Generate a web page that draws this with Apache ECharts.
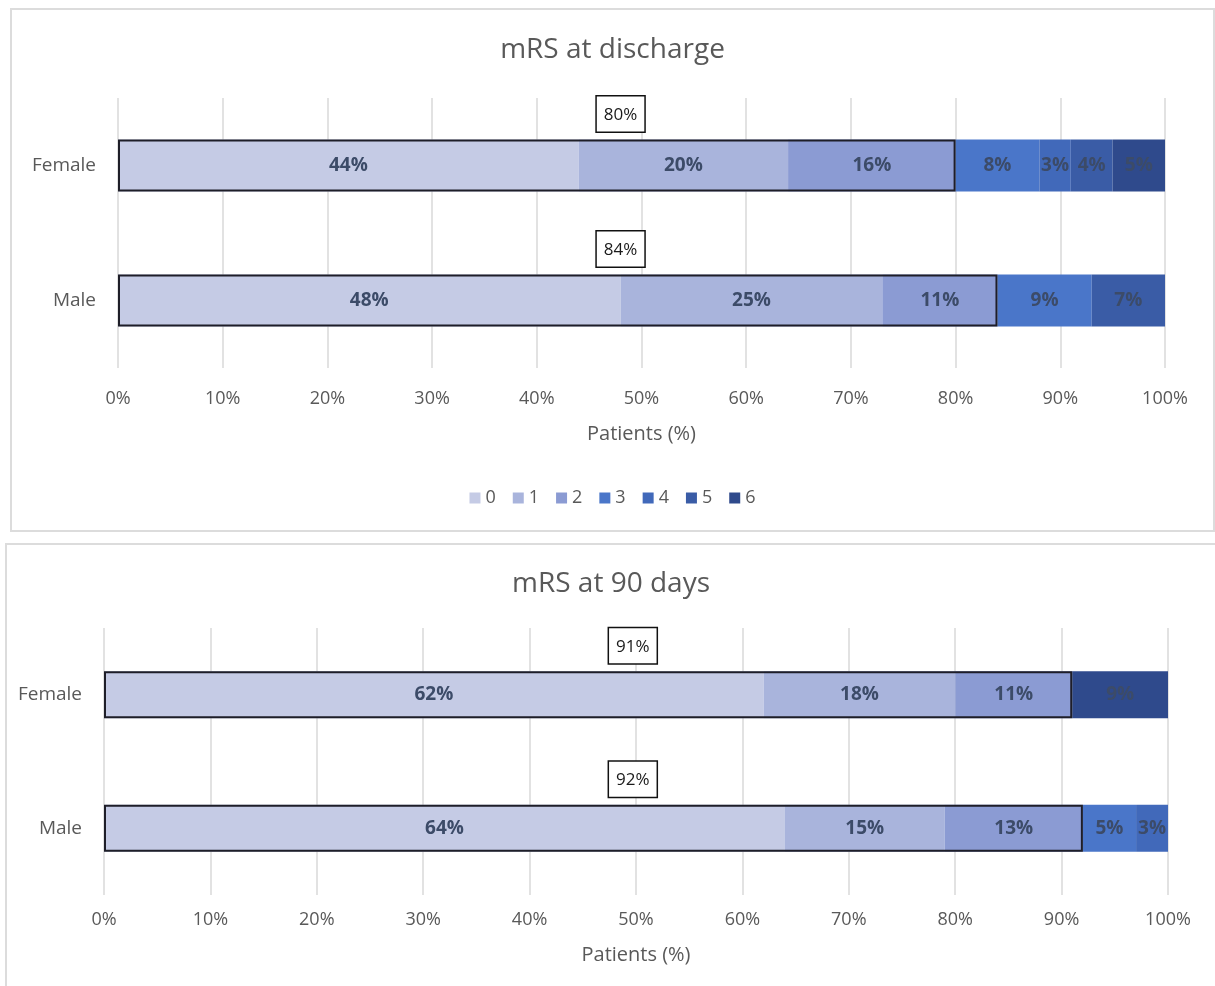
<!DOCTYPE html>
<html>
<head>
<meta charset="utf-8">
<script src="https://cdn.jsdelivr.net/npm/echarts@6/dist/echarts.min.js"></script>
<style>
  html, body { margin: 0; padding: 0; background: #ffffff; width: 1215px; height: 986px; overflow: hidden; }
  .panel { position: absolute; box-sizing: border-box; border: 2px solid #dcdcdc; background: #fff; }
  #p1 { left: 10px; top: 8px; width: 1205px; height: 524px; }
  #p2 { left: 5px; top: 543px; width: 1212px; height: 445px; }
  .chart { width: 100%; height: 100%; }
</style>
</head>
<body>
<div class="panel" id="p1"><div class="chart" id="c1"></div></div>
<div class="panel" id="p2"><div class="chart" id="c2"></div></div>
<script>
// ---- data ----
const groups = ['Female', 'Male'];
const mrsLevels = ['0', '1', '2', '3', '4', '5', '6'];
const xTicks = [0, 10, 20, 30, 40, 50, 60, 70, 80, 90, 100];

// mRS at discharge: percentage per level, [Female, Male]
const dischargeL0 = [44, 48];
const dischargeL1 = [20, 25];
const dischargeL2 = [16, 11];
const dischargeL3 = [8, 9];
const dischargeL4 = [3, 0];
const dischargeL5 = [4, 7];
const dischargeL6 = [5, 0];
const dischargeGood = [80, 84]; // mRS 0-2

// mRS at 90 days
const day90L0 = [62, 64];
const day90L1 = [18, 15];
const day90L2 = [11, 13];
const day90L3 = [0, 5];
const day90L4 = [0, 3];
const day90L5 = [0, 0];
const day90L6 = [9, 0];
const day90Good = [91, 92]; // mRS 0-2

const colors = ['#c5cbe5', '#a9b4dc', '#8b9bd3', '#4a76c9', '#4169ba', '#3a5ca6', '#2f4a8c'];
const FONT = '"Open Sans", "Noto Sans", sans-serif';

function buildOption(title, levels, good, opts) {
  const series = levels.map((vals, i) => ({
    name: mrsLevels[i],
    type: 'bar',
    stack: 'total',
    barWidth: opts.barWidth,
    itemStyle: { color: colors[i] },
    label: {
      show: true,
      position: 'inside',
      fontFamily: FONT,
      fontSize: 19,
      fontWeight: 'bold',
      color: '#3c4b68',
      formatter: p => (p.value > 0 ? p.value + '%' : '')
    },
    emphasis: { disabled: true },
    data: vals
  }));
  series.push({
    name: 'good',
    type: 'bar',
    barGap: '-100%',
    barWidth: opts.barWidth,
    z: 5,
    itemStyle: { color: 'rgba(0,0,0,0)', borderColor: '#1e1e28', borderWidth: 2 },
    emphasis: { disabled: true },
    data: good.map(v => ({
      value: v,
      label: {
        show: true,
        position: [(opts.labelCenter / v * 100) + '%', -8],
        align: 'center',
        verticalAlign: 'bottom',
        formatter: v + '%',
        fontFamily: FONT,
        fontSize: 17,
        color: '#1a1a1a',
        backgroundColor: '#ffffff',
        borderColor: '#111111',
        borderWidth: 1.5,
        padding: [10, 7, 8, 7]
      }
    }))
  });
  const option = {
    animation: false,
    backgroundColor: '#ffffff',
    title: {
      text: title,
      left: 'center',
      top: opts.titleTop,
      textStyle: { fontFamily: FONT, fontSize: 28, fontWeight: 'normal', color: '#595959' }
    },
    grid: { left: opts.gridLeft, width: opts.gridWidth, top: opts.gridTop, height: opts.gridHeight },
    xAxis: {
      type: 'value',
      min: 0,
      max: 100,
      interval: 10,
      name: 'Patients (%)',
      nameLocation: 'middle',
      nameGap: opts.nameGap,
      nameTextStyle: { fontFamily: FONT, fontSize: 20, color: '#595959' },
      axisLine: { show: false },
      axisTick: { show: false },
      axisLabel: {
        margin: opts.labelMargin,
        fontFamily: FONT,
        fontSize: 18,
        color: '#595959',
        formatter: v => (xTicks.includes(v) ? v + '%' : '')
      },
      splitLine: { show: true, lineStyle: { color: '#d9d9d9', width: 1.5 } }
    },
    yAxis: {
      type: 'category',
      data: groups,
      inverse: true,
      axisLine: { show: false },
      axisTick: { show: false },
      axisLabel: { margin: 22, fontFamily: FONT, fontSize: 19, color: '#595959' }
    },
    series: series
  };
  if (opts.legend) {
    option.legend = {
      data: mrsLevels,
      left: 'center',
      top: opts.legendTop,
      itemWidth: 11,
      itemHeight: 11,
      itemGap: 17,
      icon: 'rect',
      textStyle: { fontFamily: FONT, fontSize: 18, color: '#595959' }
    };
  }
  return option;
}

const c1 = echarts.init(document.getElementById('c1'));
c1.setOption(buildOption('mRS at discharge',
  [dischargeL0, dischargeL1, dischargeL2, dischargeL3, dischargeL4, dischargeL5, dischargeL6],
  dischargeGood,
  { barWidth: 52, labelCenter: 48, titleTop: 21, gridLeft: 106, gridWidth: 1047, gridTop: 88, gridHeight: 270,
    labelMargin: 22, nameGap: 56, legend: true, legendTop: 474 }));

const c2 = echarts.init(document.getElementById('c2'));
c2.setOption(buildOption('mRS at 90 days',
  [day90L0, day90L1, day90L2, day90L3, day90L4, day90L5, day90L6],
  day90Good,
  { barWidth: 47, labelCenter: 49.7, titleTop: 20, gridLeft: 97, gridWidth: 1064, gridTop: 83, gridHeight: 267,
    labelMargin: 16, nameGap: 50, legend: false }));
</script>
</body>
</html>
